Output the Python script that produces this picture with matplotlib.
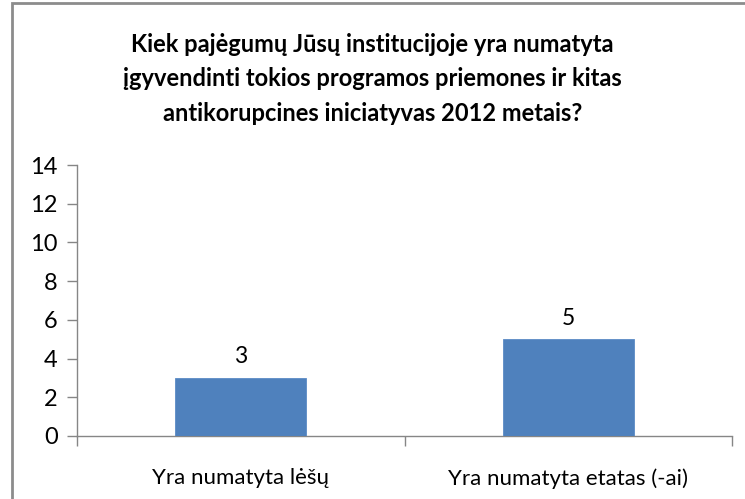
import matplotlib
matplotlib.use("Agg")
import matplotlib.pyplot as plt
from matplotlib.patches import Rectangle

plt.rcParams['font.family'] = ['Lato', 'DejaVu Sans']

title = ("Kiek pajėgumų Jūsų institucijoje yra numatyta\n"
         "įgyvendinti tokios programos priemones ir kitas\n"
         "antikorupcines iniciatyvas 2012 metais?")
categories = ["Yra numatyta lėšų", "Yra numatyta etatas (-ai)"]
values = [3, 5]
yticks = [0, 2, 4, 6, 8, 10, 12, 14]

fig = plt.figure(figsize=(7.45, 4.99), dpi=100)
ax = fig.add_axes([77/745, 63/499, 655/745, 271/499])

x = list(range(len(categories)))
bars = ax.bar(x, values, width=0.4, color="#4F81BD", edgecolor="#5B8BC6", linewidth=0.6, zorder=3)
for xi, v in zip(x, values):
    ax.text(xi, v + 0.55, str(v), ha="center", va="bottom", fontsize=16.5, color="#000000")

ax.set_xlim(-0.5, len(categories) - 0.5)
ax.set_ylim(0, 14)
ax.set_yticks(yticks)
ax.set_yticklabels([str(t) for t in yticks], fontsize=17)

ax.set_xticks(x)
ax.set_xticklabels(categories, fontsize=16)
ax.tick_params(axis="x", length=0, pad=23)
# boundary ticks between categories
ax.set_xticks([-0.5 + i for i in range(len(categories) + 1)], minor=True)
ax.tick_params(axis="x", which="minor", length=7, width=1, color="#868686", direction="out")
ax.tick_params(axis="y", length=7, width=1, color="#868686", direction="out", pad=7)

for s in ["top", "right"]:
    ax.spines[s].set_visible(False)
for s in ["left", "bottom"]:
    ax.spines[s].set_color("#868686")
    ax.spines[s].set_linewidth(1)

fig.text(0.5, 1 - 79/499, title, ha="center", va="center", fontsize=17,
         fontweight="bold", linespacing=1.6)

# chart border
fig.patches.append(Rectangle((12/745, -0.1), 1.1, (499 - 3)/499 + 0.1,
                             transform=fig.transFigure, fill=False,
                             edgecolor="#8C8C8C", linewidth=2))

fig.savefig("out.png", dpi=100)
